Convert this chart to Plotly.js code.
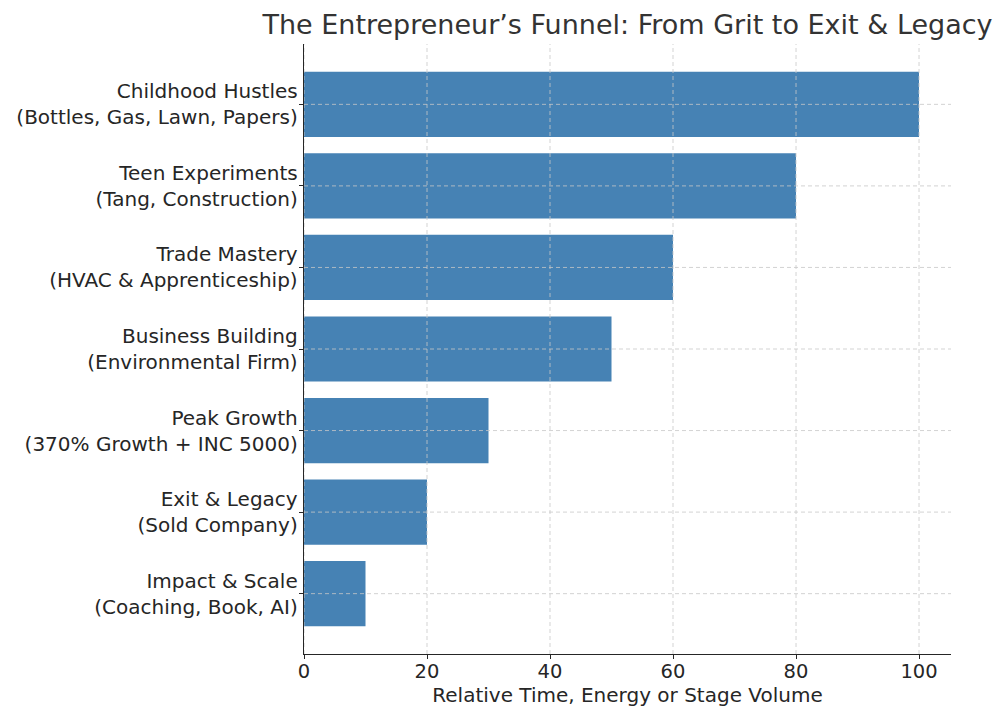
<!DOCTYPE html>
<html><head><meta charset="utf-8">
<script src="https://cdn.plot.ly/plotly-3.0.1.min.js"></script>
<style>html,body{margin:0;padding:0;background:#fff}#chart{width:1006px;height:719px}</style>
</head><body><div id="chart"></div>
<script>
const categories = [
  "Childhood Hustles<br>(Bottles, Gas, Lawn, Papers)",
  "Teen Experiments<br>(Tang, Construction)",
  "Trade Mastery<br>(HVAC & Apprenticeship)",
  "Business Building<br>(Environmental Firm)",
  "Peak Growth<br>(370% Growth + INC 5000)",
  "Exit & Legacy<br>(Sold Company)",
  "Impact & Scale<br>(Coaching, Book, AI)"
];
const values = [100, 80, 60, 50, 30, 20, 10];
const xTicks = [0, 20, 40, 60, 80, 100];
const titleText = "The Entrepreneur’s Funnel: From Grit to Exit & Legacy";
const xTitle = "Relative Time, Energy or Stage Volume";

const font = "DejaVu Sans, sans-serif";
const gridStyle = {color: "#c8c8c8", width: 0.8, dash: "4px,3px"};
const shapes = [];
xTicks.forEach(v => shapes.push({type: "line", layer: "above", xref: "x", yref: "paper", x0: v, x1: v, y0: 0, y1: 1, line: gridStyle}));
categories.forEach((c, i) => shapes.push({type: "line", layer: "above", xref: "paper", yref: "y", x0: 0, x1: 1, y0: i, y1: i, line: gridStyle}));

Plotly.newPlot("chart", [{
  type: "bar", orientation: "h",
  x: values, y: categories,
  width: 0.8,
  marker: {color: "#4682B4", line: {width: 0}},
  hoverinfo: "x+y"
}], {
  width: 1006, height: 719,
  margin: {l: 304, r: 55, t: 44, b: 65},
  paper_bgcolor: "#fff", plot_bgcolor: "#fff",
  font: {family: font, color: "#262626", size: 20},
  title: {text: titleText, font: {family: font, size: 27, color: "#333"}, x: 0.5, xref: "paper", xanchor: "center", y: 0.966, yanchor: "middle"},
  xaxis: {
    range: [0, 105.2], tickvals: xTicks, ticktext: xTicks.map(String),
    showgrid: false, zeroline: false,
    showline: true, linecolor: "#262626", linewidth: 1.3,
    ticks: "outside", ticklen: 4, tickcolor: "#262626", tickwidth: 1,
    ticklabelstandoff: -5,
    tickfont: {size: 19.5},
    title: {text: xTitle, font: {size: 20}, standoff: 2}
  },
  yaxis: {
    type: "category", range: [6.74, -0.74],
    showgrid: false, zeroline: false,
    showline: true, linecolor: "#262626", linewidth: 1.3,
    ticks: "outside", ticklen: 4, tickcolor: "#262626", tickwidth: 1,
    ticklabelstandoff: -3,
    tickfont: {size: 20}
  },
  shapes: shapes,
  showlegend: false
}, {displayModeBar: false, staticPlot: true});
</script></body></html>
